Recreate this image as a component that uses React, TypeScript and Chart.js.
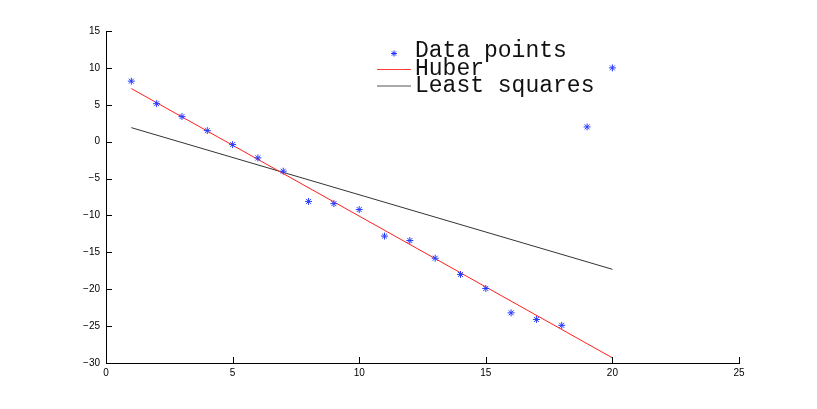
import React, { useEffect, useRef } from "react";
import { Chart, registerables } from "chart.js";

Chart.register(...registerables);

const pointX = [1, 2, 3, 4, 5, 6, 7, 8, 9, 10, 11, 12, 13, 14, 15, 16, 17, 18, 19, 20];
const pointY = [8.2, 5.15, 3.4, 1.5, -0.4, -2.2, -4.0, -8.1, -8.4, -9.2, -12.8, -13.4, -15.8, -18.0, -19.9, -23.2, -24.1, -24.9, 2.0, 10.0];
const lineX = [1, 20];
const huberY = [7.2, -29.3];
const lsY = [1.9, -17.3];
const legendLabels = ["Data points", "Huber", "Least squares"];

const fmt = (v: number) => (v < 0 ? "\u2212" + Math.abs(v) : String(v));

export default function App() {
  const ref = useRef<HTMLCanvasElement>(null);
  useEffect(() => {
    document.body.style.margin = "0";
    const ctx = ref.current!.getContext("2d")!;
    const innerTicks = {
      id: "innerTicks",
      afterDraw(chart: any) {
        const c = chart.ctx;
        const xs = chart.scales.x;
        const ys = chart.scales.y;
        const a = chart.chartArea;
        c.save();
        c.strokeStyle = "#000";
        c.lineWidth = 1;
        c.beginPath();
        xs.ticks.forEach((t: any) => {
          const px = Math.round(xs.getPixelForValue(t.value)) + 0.5;
          c.moveTo(px, a.bottom);
          c.lineTo(px, a.bottom - 6);
        });
        ys.ticks.forEach((t: any) => {
          const py = Math.round(ys.getPixelForValue(t.value)) + 0.5;
          c.moveTo(a.left, py);
          c.lineTo(a.left + 6, py);
        });
        c.stroke();
        // legend
        c.font = "23px \"Liberation Mono\", \"Courier New\", Courier, \"Nimbus Mono PS\", FreeMono, \"DejaVu Sans Mono\", monospace";
        c.fillStyle = "#111";
        c.textBaseline = "alphabetic";
        c.textAlign = "left";
        const tx = 415;
        const baselines = [57, 74.5, 92];
        legendLabels.forEach((l, i) => c.fillText(l, tx, baselines[i]));
        // star marker
        c.strokeStyle = "rgb(30,50,255)";
        c.beginPath();
        const sx = 394, sy = 53.5, r = 3;
        c.moveTo(sx - r, sy); c.lineTo(sx + r, sy);
        c.moveTo(sx, sy - r); c.lineTo(sx, sy + r);
        const d = r * 0.707;
        c.moveTo(sx - d, sy - d); c.lineTo(sx + d, sy + d);
        c.moveTo(sx - d, sy + d); c.lineTo(sx + d, sy - d);
        c.stroke();
        c.strokeStyle = "rgb(255,60,60)";
        c.beginPath();
        c.moveTo(377, 69.5); c.lineTo(411, 69.5);
        c.stroke();
        c.strokeStyle = "#555";
        c.beginPath();
        c.moveTo(377, 86); c.lineTo(411, 86);
        c.stroke();
        c.restore();
      },
    };
    const chart = new Chart(ctx, {
      type: "scatter",
      data: {
        datasets: [
          {
            label: legendLabels[0],
            data: pointX.map((x, i) => ({ x, y: pointY[i] })),
            pointStyle: "star",
            pointRadius: 3.5,
            borderColor: "rgb(40,60,255)",
            backgroundColor: "rgb(40,60,255)",
            borderWidth: 1,
            showLine: false,
          },
          {
            label: legendLabels[1],
            data: lineX.map((x, i) => ({ x, y: huberY[i] })),
            showLine: true,
            borderColor: "rgb(255,30,30)",
            borderWidth: 1,
            pointRadius: 0,
          },
          {
            label: legendLabels[2],
            data: lineX.map((x, i) => ({ x, y: lsY[i] })),
            showLine: true,
            borderColor: "#333",
            borderWidth: 1,
            pointRadius: 0,
          },
        ],
      },
      options: {
        animation: false,
        responsive: false,
        layout: { padding: { top: 31, right: 78, left: 0, bottom: 0 } },
        plugins: { legend: { display: false }, tooltip: { enabled: false } },
        scales: {
          x: {
            type: "linear",
            min: 0,
            max: 25,
            ticks: { stepSize: 5, color: "#000", font: { family: "'Liberation Sans', Arial, sans-serif", size: 10 }, padding: 4, callback: (v: any) => fmt(v), maxRotation: 0 },
            grid: { display: false, drawOnChartArea: false, drawTicks: false },
            border: { display: true, color: "#000", width: 1 },
            afterFit: (s: any) => { s.height = 46; },
          },
          y: {
            type: "linear",
            min: -30,
            max: 15,
            ticks: { stepSize: 5, color: "#000", font: { family: "'Liberation Sans', Arial, sans-serif", size: 10 }, padding: 6, callback: (v: any) => fmt(v) },
            grid: { display: false, drawOnChartArea: false, drawTicks: false },
            border: { display: true, color: "#000", width: 1 },
            afterFit: (s: any) => { s.width = 106; },
          },
        },
      },
      plugins: [innerTicks],
    });
    return () => chart.destroy();
  }, []);
  return (
    <div style={{ width: 817, height: 409, position: "relative", background: "#fff" }}>
      <canvas ref={ref} width={817} height={409} style={{ display: "block" }} />
    </div>
  );
}
